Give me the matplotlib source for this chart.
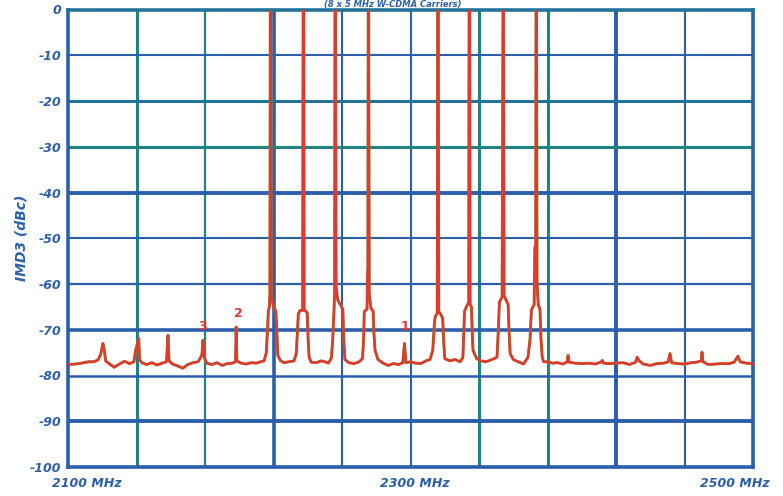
import matplotlib
matplotlib.use("Agg")
import matplotlib.pyplot as plt

# spectrum trace (MHz, dBc), one row per stretch of the sweep
freq_mhz = [2100.5, 2104, 2108, 2112, 2115, 2117.5, 2119, 2120.4, 2121.2, 2122,
            2124, 2127, 2130, 2133, 2136, 2138.5, 2139.5, 2141.3, 2141.8, 2143,
            2146, 2149, 2152, 2155, 2157.5, 2158.4, 2159.0, 2161, 2164, 2167,
            2170, 2173, 2176, 2178.2, 2178.8, 2179.5, 2181, 2184, 2187, 2190,
            2193, 2196, 2197.8, 2198.2, 2198.6, 2201, 2204, 2207, 2210, 2212.5,
            2214.5, 2215.8, 2216.5, 2217.0, 2217.6, 2217.9, 2218.1, 2218.4, 2218.7, 2219.4,
            2220.4, 2221.4, 2221.9, 2222.5, 2224, 2226, 2229, 2232, 2233.3, 2234.0,
            2234.5, 2235.5, 2237.0, 2237.3, 2237.6, 2237.9, 2239.0, 2239.7, 2240.2, 2240.8,
            2242, 2245, 2248, 2250, 2252, 2253.8, 2254.6, 2255.3, 2255.7, 2255.9,
            2256.2, 2256.5, 2257.5, 2259.0, 2260.5, 2261.0, 2261.7, 2264, 2267, 2270,
            2272.0, 2272.6, 2273.0, 2274.6, 2274.9, 2275.1, 2275.3, 2275.6, 2275.9, 2276.8,
            2278.2, 2278.6, 2279.3, 2281, 2284, 2287, 2290, 2293, 2295.5, 2296.5,
            2297.3, 2300, 2303, 2306, 2309, 2311.4, 2313.0, 2314.0, 2314.5, 2315.6,
            2315.9, 2316.2, 2316.5, 2317.5, 2318.8, 2319.3, 2320.0, 2323, 2326, 2329,
            2330.6, 2331.2, 2331.5, 2332.6, 2334.0, 2334.2, 2334.5, 2334.8, 2335.6, 2336.0,
            2336.5, 2338.6, 2341, 2344, 2347, 2350.5, 2351.3, 2351.9, 2353.5, 2354.0,
            2354.3, 2354.6, 2355.8, 2357.0, 2357.5, 2358.2, 2360, 2363, 2366, 2368.6,
            2369.8, 2370.6, 2372.2, 2372.6, 2373.1, 2373.3, 2373.6, 2373.9, 2374.6, 2375.6,
            2376.2, 2376.9, 2377.8, 2380, 2383, 2386, 2389, 2391.5, 2392, 2392.6,
            2396, 2400, 2404, 2408, 2411.5, 2412, 2412.6, 2416, 2420, 2424,
            2428, 2431.5, 2432.3, 2433.5, 2436, 2440, 2444, 2448, 2450.5, 2451.5,
            2452.5, 2456, 2460, 2464, 2467, 2469.8, 2470.2, 2470.8, 2474, 2478,
            2482, 2486, 2489, 2491.2, 2492.5, 2496, 2499.5]
level_dbc = [-77.6, -77.5, -77.3, -77.0, -77.0, -76.6, -75.5, -73.0, -74.5, -76.8,
             -77.4, -78.2, -77.5, -76.9, -77.4, -77.0, -74.5, -71.9, -76.5, -77.2,
             -77.6, -77.2, -77.7, -77.3, -77.0, -71.2, -76.8, -77.5, -77.9, -78.4,
             -77.6, -77.2, -77.0, -75.5, -72.3, -76.0, -77.3, -77.6, -77.2, -77.8,
             -77.4, -77.3, -77.0, -69.4, -76.8, -77.3, -77.5, -77.2, -77.3, -77.0,
             -76.8, -75.0, -70.0, -65.8, -65.0, -62.0, 0, 0, -63.0, -64.0,
             -65.2, -66.0, -70.0, -75.6, -76.7, -77.2, -77.0, -76.8, -75.2, -70.0,
             -66.5, -65.8, -65.8, 0, 0, -65.6, -66.0, -66.3, -72.0, -76.0,
             -77.1, -77.2, -76.8, -77.0, -77.3, -76.2, -72.0, -66.0, -61.5, 0,
             0, -60.5, -63.5, -64.5, -65.5, -72.0, -76.5, -77.2, -77.4, -77.0,
             -76.3, -72.0, -66.0, -65.5, -58.5, -56.3, 0, 0, -62.0, -65.2,
             -66.0, -70.5, -74.5, -76.5, -77.3, -77.8, -77.4, -77.6, -77.2, -73.0,
             -77.2, -77.0, -77.3, -77.4, -76.8, -76.5, -74.5, -68.5, -67.0, -66.5,
             0, 0, -66.0, -66.5, -67.5, -72.0, -76.3, -76.8, -76.5, -77.0,
             -76.0, -70.0, -66.0, -65.0, -64.0, 0, 0, -64.5, -65.0, -70.0,
             -74.5, -76.3, -76.8, -77.0, -76.6, -76.0, -70.0, -64.0, -62.8, 0,
             0, -62.5, -63.5, -64.5, -70.0, -75.2, -76.5, -77.0, -77.5, -76.0,
             -72.0, -65.7, -64.5, -52.0, -52.0, 0, 0, -60.0, -64.5, -65.5,
             -72.0, -76.0, -77.0, -77.0, -77.3, -77.2, -77.5, -77.0, -75.6, -77.1,
             -77.3, -77.4, -77.3, -77.5, -77.0, -76.7, -77.3, -77.4, -77.3, -77.2,
             -77.6, -77.1, -76.0, -76.8, -77.5, -77.8, -77.4, -77.3, -77.0, -75.2,
             -77.2, -77.4, -77.5, -77.2, -77.1, -76.8, -74.9, -77.0, -77.6, -77.5,
             -77.4, -77.4, -77.1, -75.8, -77.0, -77.3, -77.4]

# numbered IMD products
marker_text = ["3", "2", "1"]
marker_freq = [2178.3, 2199.2, 2296.8]
marker_level = [-69.2, -66.4, -69.3]

x_ticks = [2100, 2140, 2180, 2220, 2260, 2300, 2340, 2380, 2420, 2460, 2500]
x_labels = ["2100 MHz", "2300 MHz", "2500 MHz"]
x_label_pos = [2100, 2300, 2500]
y_ticks = [0, -10, -20, -30, -40, -50, -60, -70, -80, -90, -100]

BLUE = "#2b5fab"
TEAL = "#1d8383"
TEALBLUE = "#23729b"
RED = "#e8352e"
OLIVE = "#8a7d2a"

# grid line looks (the scanned chart has uneven lines)
vgrid_style = {2140: (TEAL, 2.2), 2180: (TEAL, 1.6), 2220: (BLUE, 2.6), 2260: (BLUE, 1.5),
               2300: (BLUE, 1.5), 2340: (TEAL, 2.2), 2380: (TEAL, 2.2), 2420: (BLUE, 2.8),
               2460: (BLUE, 1.5)}
hgrid_style = {-10: (BLUE, 1.5), -20: (TEALBLUE, 2.2), -30: (TEAL, 2.2), -40: (BLUE, 2.8),
               -50: (BLUE, 1.5), -60: (BLUE, 1.6), -70: (BLUE, 2.6), -80: (BLUE, 1.8),
               -90: (BLUE, 2.8)}

fig = plt.figure(figsize=(7.83, 4.96), dpi=100)
ax = fig.add_axes([68 / 783, 29 / 496, 685 / 783, 457.5 / 496])

for f in x_ticks[1:-1]:
    c, lw = vgrid_style[f]
    ax.axvline(f, color=c, lw=lw, zorder=1)
for l in y_ticks[1:-1]:
    c, lw = hgrid_style[l]
    ax.axhline(l, color=c, lw=lw, zorder=1)

ax.plot(freq_mhz, level_dbc, color=OLIVE, lw=2.1, zorder=3)
ax.plot(freq_mhz, level_dbc, color=RED, lw=1.6, zorder=4)

for t, f, l in zip(marker_text, marker_freq, marker_level):
    ax.text(f, l, t, color=RED, fontsize=9, fontweight="bold", ha="center", va="center", zorder=5)

ax.set_xlim(2100, 2500)
ax.set_ylim(-100, 0)
ax.set_xticks(x_ticks)
ax.set_xticklabels([])
ax.set_yticks(y_ticks)
ax.set_yticklabels([str(v) for v in y_ticks], color=BLUE, fontsize=9,
                   fontweight="bold", fontstyle="italic")
ax.tick_params(length=0, pad=5)

# x labels sit shifted off their ticks in the original
shifts = [(-11.5, "left"), (3, "center"), (12, "right")]
for lbl, f, (dx, ha) in zip(x_labels, x_label_pos, shifts):
    ax.annotate(lbl, xy=(f, 0), xycoords=("data", "axes fraction"), xytext=(dx, -7),
                textcoords="offset points", ha=ha, va="top", color=BLUE, fontsize=9,
                fontweight="bold", fontstyle="italic")

ax.set_ylabel("IMD3 (dBc)", color=BLUE, fontsize=10, fontweight="bold",
              fontstyle="italic", labelpad=1)

for side, sp in ax.spines.items():
    sp.set_color(TEALBLUE if side == "top" else BLUE)
    sp.set_linewidth(2.6)
    sp.set_zorder(2)

# title is mostly cropped in the source; kept small so it fits
fig.text(393 / 783, 1.0, "(8 x 5 MHz W-CDMA Carriers)", ha="center", va="top",
         color=BLUE, fontsize=6, fontweight="bold", fontstyle="italic")

fig.savefig("out.png", dpi=100)
